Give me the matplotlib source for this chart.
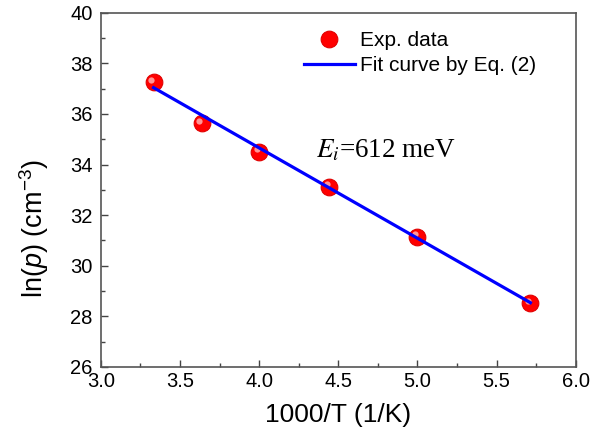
import matplotlib
matplotlib.use("Agg")
import matplotlib.pyplot as plt
from matplotlib.transforms import offset_copy
from matplotlib.ticker import MultipleLocator, FormatStrFormatter

# ---- data ----
inv_T = [3.333, 3.636, 4.000, 4.444, 5.000, 5.714]
ln_p = [37.26, 35.63, 34.51, 33.13, 31.15, 28.52]
fit_x = [3.333, 5.714]
fit_y = [37.04, 28.54]

plt.rcParams['font.family'] = ['Liberation Sans', 'DejaVu Sans']
plt.rcParams['mathtext.fontset'] = 'custom'
plt.rcParams['mathtext.rm'] = 'Liberation Sans'
plt.rcParams['mathtext.it'] = 'Liberation Sans:italic'

fig = plt.figure(figsize=(6.15, 4.41), dpi=100)
ax = fig.add_axes([0.164, 0.168, 0.772, 0.803])

# markers (sphere-like)
ax.plot(inv_T, ln_p, linestyle='none', marker='o', markersize=12,
        markerfacecolor='#ff0000', markeredgecolor='#e00000', markeredgewidth=0.8,
        zorder=3, label='Exp. data')
hl = offset_copy(ax.transData, fig=fig, x=-2.5, y=2.5, units='dots')
ax.plot(inv_T, ln_p, linestyle='none', marker='o', markersize=4.5,
        markerfacecolor='#ffb0b0', markeredgecolor='none', alpha=0.85,
        transform=hl, zorder=4)

ax.plot(fit_x, fit_y, color='#0000ff', linewidth=2.3, zorder=5,
        label='Fit curve by Eq. (2)')

ax.set_xlim(3.0, 6.0)
ax.set_ylim(26, 40)
ax.xaxis.set_major_locator(MultipleLocator(0.5))
ax.xaxis.set_minor_locator(MultipleLocator(0.25))
ax.yaxis.set_major_locator(MultipleLocator(2))
ax.yaxis.set_minor_locator(MultipleLocator(1))
ax.xaxis.set_major_formatter(FormatStrFormatter('%.1f'))
ax.tick_params(which='both', direction='in', top=False, right=False, labelsize=14.5,
               color='#444444')
ax.tick_params(which='major', length=5, width=1)
ax.tick_params(which='minor', length=3, width=1)
ax.tick_params(axis='y', which='major', pad=6)
ax.tick_params(axis='x', which='major', pad=4)
for s in ax.spines.values():
    s.set_color('#555555')
    s.set_linewidth(1.2)

ax.set_xlabel('1000/T (1/K)', fontsize=19, labelpad=8)
ax.set_ylabel('ln($\\it{p}$) (cm$^{-3}$)', fontsize=19.5)
ax.yaxis.set_label_coords(-0.105, 0.39)

ax.text(4.36, 34.27, '$E_i$=612 meV', family='Liberation Serif', math_fontfamily='stix',
        fontsize=19.5, ha='left', va='baseline')

ax.legend(loc='upper left', bbox_to_anchor=(0.427, 0.948), frameon=False, fontsize=15,
          borderpad=0, borderaxespad=0, handlelength=2.45, handletextpad=0.25,
          labelspacing=0.3, markerscale=1.0)

fig.savefig('out.png', dpi=100)
